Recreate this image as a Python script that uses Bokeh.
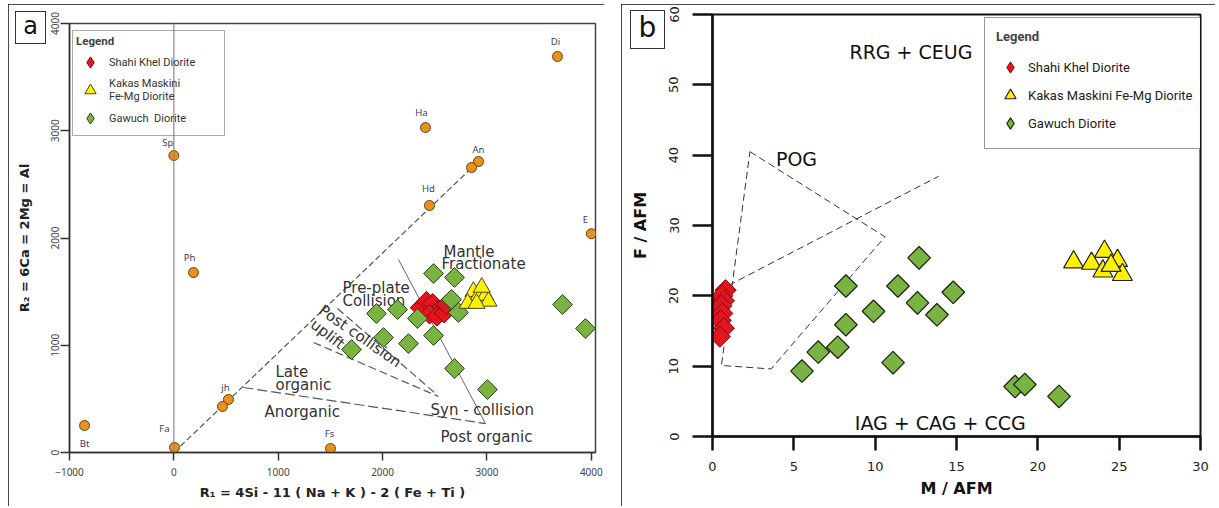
import math
from bokeh.plotting import figure
from bokeh.layouts import row, column
from bokeh.models import Legend, LegendItem, Span, FixedTicker, ColumnDataSource, Spacer, Div
from bokeh.core.properties import value
from bokeh.embed import file_html
from bokeh.resources import INLINE

# ---------------- Panel a : R1-R2 diagram ----------------
a_x_ticks = [-1000, 0, 1000, 2000, 3000, 4000]
a_y_ticks = [0, 1000, 2000, 3000, 4000]

shahi_r1 = [2360, 2420, 2480, 2540, 2450, 2520, 2590, 2610]
shahi_r2 = [1350, 1410, 1390, 1330, 1290, 1270, 1300, 1380]

kakas_r1 = [2870, 2920, 2985, 3015, 2815, 2900, 2950]
kakas_r2 = [1500, 1465, 1465, 1410, 1390, 1390, 1540]

gawuch_r1 = [2488, 2689, 1941, 2143, 2334, 2660, 2727, 2009, 2248, 2488, 1702, 2689, 3005, 3724, 3944]
gawuch_r2 = [1669, 1632, 1296, 1333, 1249, 1427, 1305, 1072, 1016, 1091, 960, 783, 587, 1380, 1156]

mineral_names = ["Bt", "Fa", "jh", "", "Ph", "Sp", "Ha", "An", "", "Hd", "Di", "E", "Fs"]
mineral_r1 = [-856, 6, 523, 466, 188, 0, 2411, 2919, 2852, 2449, 3676, 4000, 1501]
mineral_r2 = [252, 47, 494, 429, 1678, 2769, 3030, 2713, 2657, 2303, 3692, 2040, 37]
mineral_label_dx = [0, -10, -3, 0, -4, -6, -4, 0, 0, -1, -2, -6, -1]
mineral_label_dy = [18, -19, -12, 0, -15, -13, -15, -12, 0, -17, -15, -14, -15]

line_main_r1 = [0, 2860]
line_main_r2 = [0, 2660]
line_late_r1 = [667, 2986]
line_late_r2 = [606, 270]
line_uplift_r1 = [1338, 2535]
line_uplift_r2 = [1026, 522]
line_postcol_r1 = [1568, 2507]
line_postcol_r2 = [1343, 550]
line_mantle_r1 = [2152, 2986]
line_mantle_r2 = [1800, 270]

field_text = ["Mantle", "Fractionate", "Pre-plate", "Collision", "Late", "organic",
              "Anorganic", "Syn - collision", "Post organic"]
field_r1 = [2583, 2564, 1616, 1616, 974, 974, 868, 2459, 2555]
field_r2 = [1874, 1753, 1538, 1417, 746, 625, 373, 392, 149]
rot_text = ["Post collision", "uplift"]
rot_r1 = [1405, 1328]
rot_r2 = [1343, 1212]
rot_angle = [-0.61, -0.66]

# ---------------- Panel b : F/AFM vs M/AFM ----------------
b_x_ticks = [0, 5, 10, 15, 20, 25, 30]
b_y_ticks = [0, 10, 20, 30, 40, 50, 60]

shahi_m = [0.8, 0.6, 0.7, 0.55, 0.6, 0.5, 0.7, 0.45]
shahi_f = [20.8, 20.0, 19.3, 18.6, 17.5, 16.5, 15.4, 14.2]

kakas_m = [22.2, 23.3, 24.1, 24.0, 24.9, 25.2, 24.5]
kakas_f = [24.8, 24.6, 26.3, 23.5, 25.0, 23.0, 24.3]

gawuch_m = [8.2, 9.9, 11.4, 12.6, 13.8, 8.2, 7.7, 6.5, 5.5, 11.1, 12.7, 14.8, 18.6, 19.2, 21.3]
gawuch_f = [21.4, 17.8, 21.4, 19.0, 17.3, 15.9, 12.7, 12.0, 9.3, 10.5, 25.4, 20.5, 7.1, 7.4, 5.7]

pog_m = [2.3, 10.6, 3.6, 0.55, 2.3]
pog_f = [40.5, 28.4, 9.6, 10.1, 40.5]
rrg_line_m = [1.0, 13.9]
rrg_line_f = [21.5, 37.0]

b_field_text = ["RRG + CEUG", "IAG + CAG + CCG"]
b_field_m = [12.2, 14.0]
b_field_f = [54.6, 1.9]
pog_text_m = [3.9]
pog_text_f = [39.5]

# ---------------- styles ----------------
RED, RED_L = "#E3151F", "#7A0A0E"
YEL, YEL_L = "#FFF100", "#4A4A22"
GRN, GRN_L = "#79B443", "#2C4515"
ORG, ORG_L = "#E8911F", "#6B4210"
DIAMOND = math.pi / 4
OUTLINE = {"outline": "3px solid #111111", "outline-offset": "-3px"}

# ================= figure a =================
pa = figure(frame_width=526, frame_height=429, x_range=(-1000, 4040), y_range=(0, 4000),
            output_backend="svg", toolbar_location=None,
            min_border_left=61, min_border_right=9, min_border_top=19, min_border_bottom=54)
pa.styles = OUTLINE
pa.xgrid.visible = False
pa.ygrid.visible = False
pa.outline_line_color = "#444444"
pa.outline_line_width = 1.5

pa.add_layout(Span(location=0, dimension="height", line_color="#8a8a8a", line_width=1.2))

pa.line(line_main_r1, line_main_r2, line_color="#555555", line_width=1.2, line_dash="6 3")
pa.line(line_late_r1, line_late_r2, line_color="#555555", line_width=1.2, line_dash="10 4")
pa.line(line_uplift_r1, line_uplift_r2, line_color="#555555", line_width=1.2, line_dash="8 4")
pa.line(line_postcol_r1, line_postcol_r2, line_color="#555555", line_width=1.2, line_dash="8 4")
pa.line(line_mantle_r1, line_mantle_r2, line_color="#666666", line_width=1)

pa.text(field_r1, field_r2, text=field_text, text_font=value("DejaVu Sans"),
        text_font_size="15px", text_color="#333333", text_align="left", text_baseline="middle")
pa.text(rot_r1, rot_r2, text=rot_text, angle=rot_angle, text_font=value("DejaVu Sans"),
        text_font_size="15px", text_color="#333333", text_align="left", text_baseline="middle")

msrc = ColumnDataSource(dict(x=mineral_r1, y=mineral_r2, name=mineral_names,
                             dx=mineral_label_dx, dy=mineral_label_dy))
pa.scatter("x", "y", source=msrc, marker="circle", size=10, fill_color=ORG,
           line_color=ORG_L, line_width=1)
pa.text("x", "y", text="name", source=msrc, x_offset="dx", y_offset="dy",
        text_font=value("Noto Sans"), text_font_size="9.5px", text_color="#3b3b6b",
        text_align="center", text_baseline="middle")

# legend keys (drawn small underneath the plotted diamonds)
ra1_key = pa.scatter(shahi_r1, shahi_r2, marker="diamond", size=8,
                     fill_color=RED, line_color=RED_L, line_width=1)
ra3_key = pa.scatter(gawuch_r1, gawuch_r2, marker="diamond", size=8,
                     fill_color=GRN, line_color=GRN_L, line_width=1)
pa.scatter(shahi_r1, shahi_r2, marker="square", angle=DIAMOND, size=14,
           fill_color=RED, line_color=RED_L, line_width=1)
pa.scatter(gawuch_r1, gawuch_r2, marker="square", angle=DIAMOND, size=14,
           fill_color=GRN, line_color=GRN_L, line_width=1)
ra2 = pa.scatter(kakas_r1, kakas_r2, marker="triangle", size=17,
                 fill_color=YEL, line_color=YEL_L, line_width=1)

leg_a = Legend(items=[LegendItem(label="Shahi Khel Diorite", renderers=[ra1_key]),
                      LegendItem(label="Kakas Maskini\nFe-Mg Diorite", renderers=[ra2]),
                      LegendItem(label="Gawuch  Diorite", renderers=[ra3_key])],
               location=(3, 316), title="Legend", title_text_font="Roboto",
               title_text_font_style="bold", title_text_font_size="11.5px",
               title_standoff=0,
               label_text_font="Roboto", label_text_font_size="11px",
               label_text_color="#333333", label_width=112,
               border_line_color="#555555", border_line_width=1, background_fill_alpha=0,
               glyph_width=28, glyph_height=28, spacing=0, padding=3, label_standoff=5,
               margin=0)
pa.add_layout(leg_a)

for ax in (pa.xaxis[0], pa.yaxis[0]):
    ax.axis_line_color = "#333333"
    ax.axis_line_width = 1.5
    ax.major_tick_line_color = "#333333"
    ax.major_tick_line_width = 1.5
    ax.minor_tick_line_color = None
    ax.major_tick_in = 0
    ax.major_label_text_font = "Noto Sans"
    ax.major_label_text_font_size = "10px"
    ax.major_label_text_color = "#444444"
    ax.axis_label_text_font = "DejaVu Sans"
    ax.axis_label_text_font_style = "bold"
    ax.axis_label_text_font_size = "13px"
    ax.axis_label_text_color = "#222222"
pa.xaxis[0].ticker = FixedTicker(ticks=a_x_ticks)
pa.yaxis[0].ticker = FixedTicker(ticks=a_y_ticks)
pa.xaxis[0].major_tick_out = 8
pa.yaxis[0].major_tick_out = 9
pa.xaxis[0].major_label_standoff = 7
pa.yaxis[0].major_label_standoff = 2
pa.yaxis[0].major_label_orientation = "parallel"
pa.xaxis[0].axis_label = "R\u2081 = 4Si - 11 ( Na + K ) - 2 ( Fe + Ti )"
pa.yaxis[0].axis_label = "R\u2082 = 6Ca = 2Mg = Al"
pa.xaxis[0].axis_label_standoff = 6
pa.yaxis[0].axis_label_standoff = 16

# ================= figure b =================
pb = figure(width=594, height=502, x_range=(0, 30), y_range=(0, 60),
            output_backend="svg", toolbar_location=None,
            min_border_left=91, min_border_right=15, min_border_top=10, min_border_bottom=70)
pb.xgrid.visible = False
pb.ygrid.visible = False
pb.outline_line_color = "#111111"
pb.outline_line_width = 2

pb.line(pog_m, pog_f, line_color="#333333", line_width=1, line_dash="7 4")
pb.line(rrg_line_m, rrg_line_f, line_color="#333333", line_width=1, line_dash="7 4")

pb.text(b_field_m, b_field_f, text=b_field_text, text_font=value("DejaVu Sans"),
        text_font_size="19px", text_color="#111111", text_align="center", text_baseline="middle")
pb.text(pog_text_m, pog_text_f, text=["POG"], text_font=value("DejaVu Sans"),
        text_font_size="19px", text_color="#111111", text_align="left", text_baseline="middle")

rb1_key = pb.scatter(shahi_m, shahi_f, marker="diamond", size=8,
                     fill_color=RED, line_color=RED_L, line_width=1)
rb3_key = pb.scatter(gawuch_m, gawuch_f, marker="diamond", size=8,
                     fill_color=GRN, line_color="#1f2a10", line_width=1.2)
pb.scatter(shahi_m, shahi_f, marker="square", angle=DIAMOND, size=15,
           fill_color=RED, line_color=RED_L, line_width=1)
rb2 = pb.scatter(kakas_m, kakas_f, marker="triangle", size=20,
                 fill_color=YEL, line_color="#222222", line_width=1.2)
pb.scatter(gawuch_m, gawuch_f, marker="square", angle=DIAMOND, size=16,
           fill_color=GRN, line_color="#1f2a10", line_width=1.3)

leg_b = Legend(items=[LegendItem(label="Shahi Khel Diorite", renderers=[rb1_key]),
                      LegendItem(label="Kakas Maskini Fe-Mg Diorite", renderers=[rb2]),
                      LegendItem(label="Gawuch Diorite", renderers=[rb3_key])],
               location=(272, 287), title="Legend", title_text_font="Roboto",
               title_text_font_style="bold", title_text_font_size="13px",
               title_standoff=9,
               label_text_font="Roboto", label_text_font_size="13px",
               label_text_color="#222222",
               border_line_color="#333333", border_line_width=1.5, background_fill_color="white",
               glyph_width=28, glyph_height=28, spacing=0, padding=11, label_standoff=4,
               margin=0)
pb.add_layout(leg_b)

for ax in (pb.xaxis[0], pb.yaxis[0]):
    ax.axis_line_color = "#111111"
    ax.axis_line_width = 2.5
    ax.major_tick_line_color = "#111111"
    ax.major_tick_line_width = 2.5
    ax.minor_tick_line_color = None
    ax.major_tick_in = 0
    ax.major_label_text_font = "DejaVu Sans"
    ax.major_label_text_font_size = "13px"
    ax.major_label_text_color = "#222222"
    ax.axis_label_text_font = "DejaVu Sans"
    ax.axis_label_text_font_style = "bold"
    ax.axis_label_text_font_size = "16px"
    ax.axis_label_text_color = "#111111"
pb.xaxis[0].ticker = FixedTicker(ticks=b_x_ticks)
pb.yaxis[0].ticker = FixedTicker(ticks=b_y_ticks)
pb.xaxis[0].major_tick_out = 14
pb.yaxis[0].major_tick_out = 20
pb.xaxis[0].major_label_standoff = 11
pb.yaxis[0].major_label_standoff = 14
pb.yaxis[0].major_label_orientation = "parallel"
pb.xaxis[0].axis_label = "M / AFM"
pb.yaxis[0].axis_label = "F / AFM"
pb.xaxis[0].axis_label_standoff = 5
pb.yaxis[0].axis_label_standoff = 17

wrap_b = column(pb, width=594, height=502, spacing=0,
                styles=dict(OUTLINE, overflow="hidden"))

# ================= panel tags =================
TAG = {"position": "absolute", "box-sizing": "border-box", "border": "1.5px solid #333333",
       "background-color": "white", "font-family": "DejaVu Sans", "color": "#111111",
       "text-align": "center", "z-index": "10"}
tag_a = Div(text="a", width=31, height=33,
            styles=dict(TAG, left="10px", top="6px", **{"font-size": "24px", "line-height": "28px"}))
tag_b = Div(text="b", width=35, height=39,
            styles=dict(TAG, left="625px", top="5px", **{"font-size": "28px", "line-height": "34px"}))

layout = column(Spacer(height=4),
                row(Spacer(width=8), pa, Spacer(width=17), wrap_b, spacing=0),
                tag_a, tag_b, spacing=0)
open("out.html", "w").write(file_html(layout, INLINE))
